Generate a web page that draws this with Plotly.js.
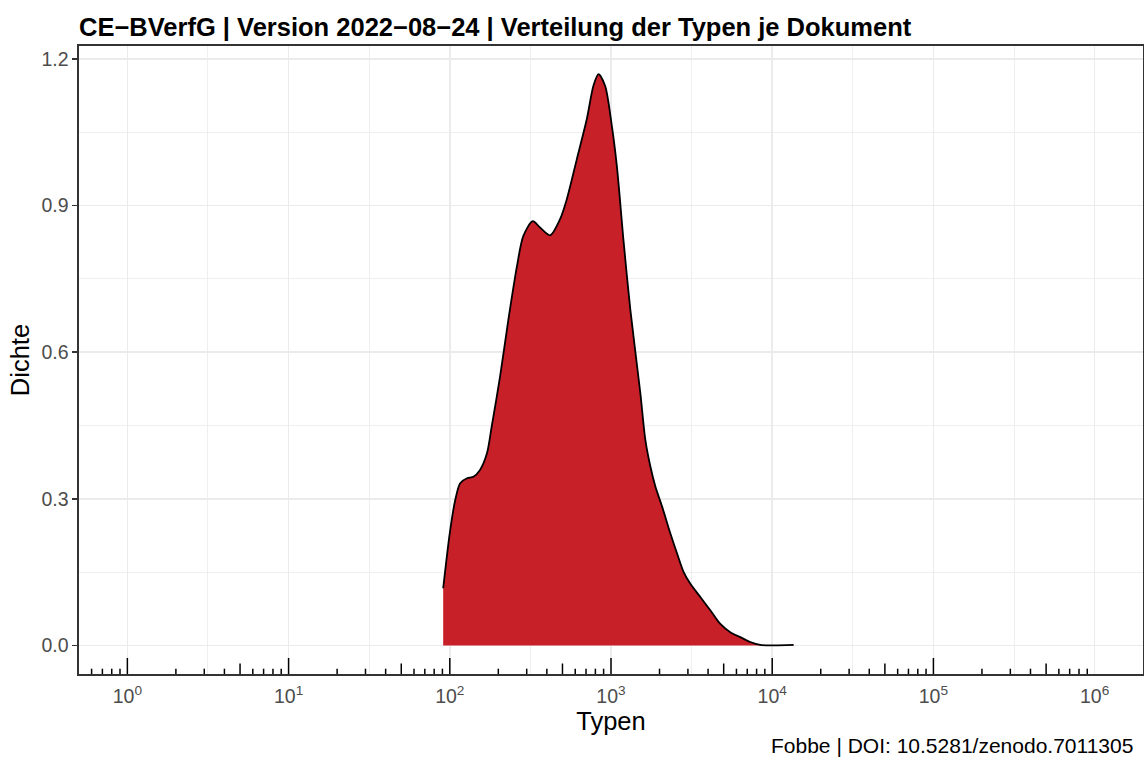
<!DOCTYPE html>
<html>
<head>
<meta charset="utf-8">
<script src="https://cdn.plot.ly/plotly-3.0.1.min.js"></script>
<style>
  html, body { margin: 0; padding: 0; background: #ffffff; }
  #chart { width: 1144px; height: 764px; }
</style>
</head>
<body>
<div id="chart"></div>
<script>
// ---- Data ----
const typen = [91, 100, 108, 116, 128, 140, 154, 170, 182, 205, 231, 261, 286, 327, 363, 419, 483, 532, 614, 708, 778, 836, 919, 1012, 1087, 1199, 1318, 1521, 1634, 1755, 1885, 2075, 2336, 2570, 2824, 3107, 3583, 4132, 4767, 5497, 6339, 7311, 8431, 10210, 13570];
const dichte = [0.117, 0.23, 0.297, 0.332, 0.342, 0.345, 0.359, 0.393, 0.448, 0.550, 0.667, 0.776, 0.838, 0.868, 0.855, 0.839, 0.872, 0.913, 0.995, 1.077, 1.145, 1.169, 1.145, 1.063, 0.981, 0.824, 0.687, 0.516, 0.420, 0.366, 0.325, 0.284, 0.229, 0.188, 0.150, 0.126, 0.099, 0.072, 0.044, 0.027, 0.017, 0.007, 0.001, 0.0, 0.001];

// ---- Tick labels ----
const xTickVals = [1, 10, 100, 1000, 10000, 100000, 1000000];
const xTickText = ['10<sup>0</sup>', '10<sup>1</sup>', '10<sup>2</sup>', '10<sup>3</sup>', '10<sup>4</sup>', '10<sup>5</sup>', '10<sup>6</sup>'];
const yTickVals = [0, 0.3, 0.6, 0.9, 1.2];
const yTickText = ['0.0', '0.3', '0.6', '0.9', '1.2'];
const yMinorVals = [0.15, 0.45, 0.75, 1.05];
const logTickDecades = [-1, 0, 1, 2, 3, 4, 5];
const logTickMultipliers = [1, 2, 3, 4, 5, 6, 7, 8, 9];

const titleText = 'CE\u2212BVerfG | Version 2022\u221208\u221224 | Verteilung der Typen je Dokument';
const captionText = 'Fobbe | DOI: 10.5281/zenodo.7011305';

// ---- Derived axis helpers ----
const xRange = [-0.3, 6.3];
const xMinorVals = xTickVals.map(v => v * Math.sqrt(10));

const shapes = [];
logTickDecades.forEach(k => {
  logTickMultipliers.forEach(m => {
    const v = m * Math.pow(10, k);
    const lv = Math.log10(v);
    if (lv < xRange[0] || lv > xRange[1]) return;
    const len = m === 1 ? 16 : (m === 5 ? 10.5 : 5.3);
    shapes.push({
      type: 'line', xref: 'x', yref: 'paper',
      ysizemode: 'pixel', yanchor: 0,
      x0: v, x1: v, y0: 0, y1: len,
      line: { color: '#000000', width: 1.5 }
    });
  });
});

const FONT = 'Liberation Sans, Arial, Helvetica, sans-serif';

const trace = {
  type: 'scatter', mode: 'lines',
  x: typen, y: dichte,
  line: { color: '#000000', width: 1.8, shape: 'spline', smoothing: 0.8 },
  fill: 'tozeroy', fillcolor: '#C82029',
  hoverinfo: 'skip', showlegend: false
};

const layout = {
  width: 1144, height: 764,
  margin: { l: 79, r: 1, t: 46, b: 90, pad: 0 },
  paper_bgcolor: '#ffffff', plot_bgcolor: '#ffffff',
  font: { family: FONT, color: '#000000' },
  showlegend: false,
  title: {
    text: '<b>' + titleText + '</b>',
    font: { family: FONT, size: 25.5, color: '#000000' },
    xref: 'paper', x: 0, xanchor: 'left',
    yref: 'container', y: 1 - 27 / 764, yanchor: 'middle'
  },
  xaxis: {
    type: 'log', range: xRange,
    tickmode: 'array', tickvals: xTickVals, ticktext: xTickText,
    tickfont: { family: FONT, size: 19.5, color: '#4D4D4D' },
    ticks: '', ticklabelstandoff: 4,
    showgrid: true, gridcolor: '#EBEBEB', gridwidth: 1.6,
    minor: { tickmode: 'array', tickvals: xMinorVals, showgrid: true, gridcolor: '#EBEBEB', gridwidth: 0.8, ticks: '' },
    zeroline: false,
    showline: true, mirror: true, linecolor: '#333333', linewidth: 1.6,
    title: { text: 'Typen', font: { family: FONT, size: 25.5, color: '#000000' }, standoff: 6 }
  },
  yaxis: {
    range: [-0.0584, 1.2264],
    tickmode: 'array', tickvals: yTickVals, ticktext: yTickText,
    tickfont: { family: FONT, size: 19.5, color: '#4D4D4D' },
    ticks: 'outside', ticklen: 5, tickwidth: 1.5, tickcolor: '#333333',
    showgrid: true, gridcolor: '#EBEBEB', gridwidth: 1.6,
    minor: { tickmode: 'array', tickvals: yMinorVals, showgrid: true, gridcolor: '#EBEBEB', gridwidth: 0.8, ticks: '' },
    zeroline: false,
    showline: true, mirror: true, linecolor: '#333333', linewidth: 1.6,
    title: { text: 'Dichte', font: { family: FONT, size: 25.5, color: '#000000' }, standoff: 4 }
  },
  shapes: shapes,
  annotations: [{
    text: captionText, showarrow: false,
    xref: 'paper', yref: 'paper',
    x: (1135 - 79) / 1064, xanchor: 'right',
    y: (674 - 745) / 628, yanchor: 'middle',
    font: { family: FONT, size: 21, color: '#000000' }
  }]
};

Plotly.newPlot('chart', [trace], layout, { displayModeBar: false, staticPlot: true });
</script>
</body>
</html>
